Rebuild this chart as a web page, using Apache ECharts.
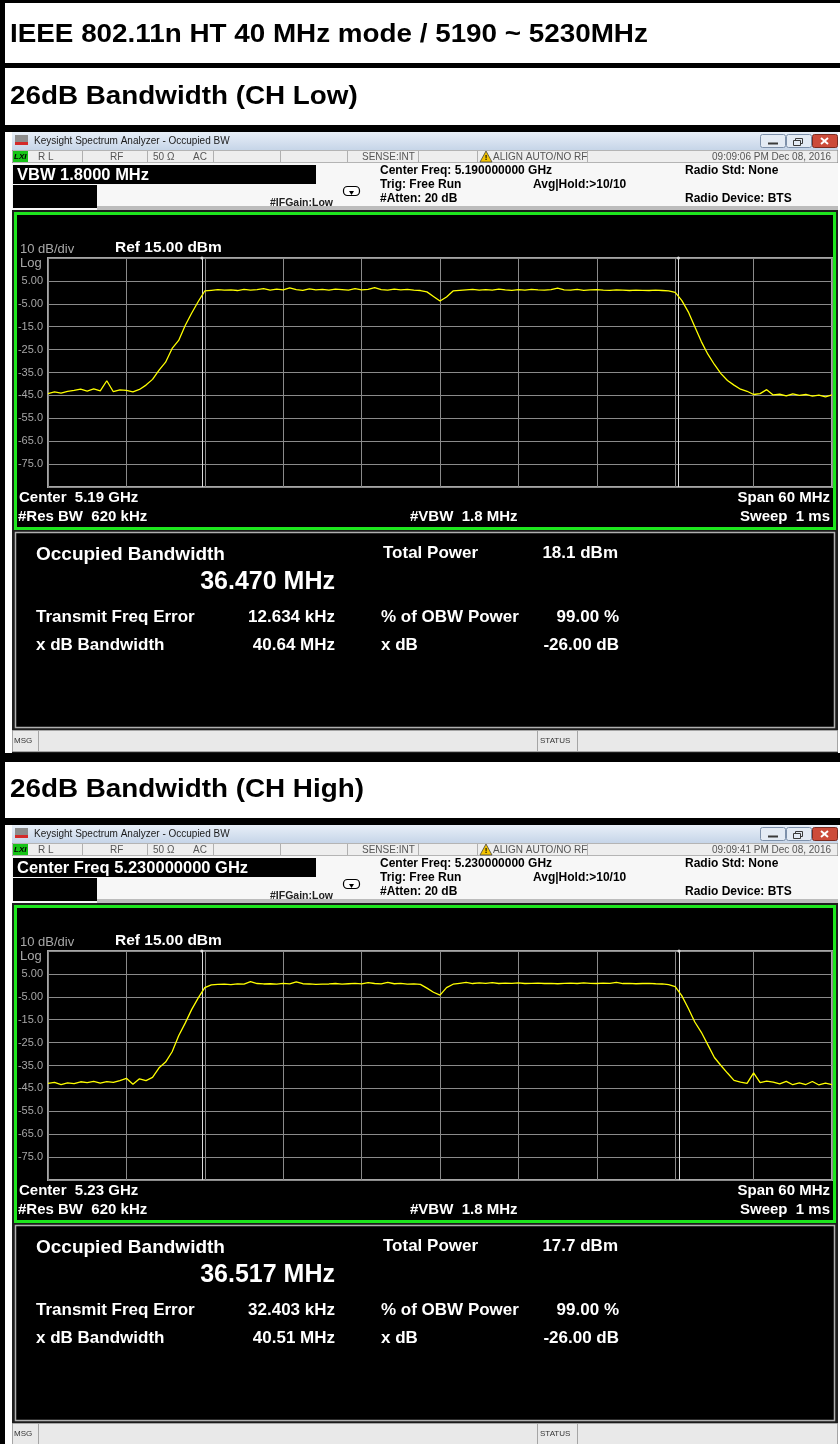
<!DOCTYPE html>
<html>
<head>
<meta charset="utf-8">
<script src="https://cdn.jsdelivr.net/npm/echarts@6/dist/echarts.min.js"></script>
<style>
  html, body { margin: 0; padding: 0; background: #fff; }
  #main { width: 840px; height: 1444px; }
</style>
</head>
<body>
<div id="main"></div>
<script>
// sweep points, offset from center frequency (MHz)
var freqMHz = [-30, -29.5, -29, -28.5, -28, -27.5, -27, -26.5, -26, -25.5, -25, -24.5, -24, -23.5,
  -23, -22.5, -22, -21.5, -21, -20.5, -20, -19.5, -19, -18.5, -18,
  -17.5, -17, -16.5, -16, -15.5, -15, -14.5, -14, -13.5, -13, -12.5, -12, -11.5, -11, -10.5, -10,
  -9.5, -9, -8.5, -8, -7.5, -7, -6.5, -6, -5.5, -5, -4.5, -4, -3.5, -3, -2.5, -2, -1.5,
  -1, -0.5, 0, 0.5, 1,
  1.5, 2, 2.5, 3, 3.5, 4, 4.5, 5, 5.5, 6, 6.5, 7, 7.5, 8, 8.5, 9, 9.5, 10, 10.5, 11, 11.5, 12,
  12.5, 13, 13.5, 14, 14.5, 15, 15.5, 16, 16.5, 17,
  17.5, 18, 18.5, 19, 19.5, 20, 20.5, 21, 21.5, 22, 22.5, 23, 23.5, 24, 24.5, 25, 25.5, 26,
  26.5, 27, 27.5, 28, 28.5, 29, 29.5, 30];

// CH Low trace (dBm)
var lowTrace = [-44.2, -43.5, -44.0, -43.2, -42.8, -42.3, -43.1, -42.2, -43.0, -38.6, -43.4, -42.6, -42.8, -43.5,
  -42.4, -40.5, -38.0, -34.0, -30.5, -24.5, -21.0, -14.5, -9.0, -4.0, 0.6,
  0.9, 1.2, 1.0, 1.1, 0.8, 1.3, 1.0, 1.2, 1.6, 1.0, 1.4, 1.1, 2.0, 1.2, 0.9, 1.5, 1.1, 1.3, 1.0, 1.4,
  1.2, 1.0, 1.6, 1.1, 1.3, 2.1, 1.2, 1.0, 1.4, 1.1, 1.3, 1.0, 0.8,
  0.2, -1.8, -3.8, -2.0, 0.6,
  0.9, 1.1, 1.3, 1.0, 1.2, 1.0, 1.4, 1.1, 0.9, 1.2, 1.0, 1.3, 1.1, 1.0, 1.2, 1.8, 1.1, 1.0, 1.3, 0.9,
  1.1, 1.2, 1.0, 0.9, 1.1, 1.0, 0.8, 1.0, 0.9, 0.8, 1.0, 0.8,
  0.6, 0.0, -3.5, -8.5, -15.0, -21.5, -27.0, -31.5, -35.5, -38.5, -40.5, -42.3, -43.2, -44.6, -44.2,
  -42.5, -44.8, -44.5, -45.2, -44.3, -45.0, -44.6, -45.3, -44.9, -45.6, -44.8];

// CH High trace (dBm)
var highTrace = [-42.8, -42.4, -43.4, -42.6, -42.9, -42.1, -42.5, -41.9, -42.7, -42.0, -42.4, -41.6, -40.6, -43.2,
  -40.8, -41.6, -40.2, -36.0, -33.5, -29.0, -22.0, -16.5, -10.5, -5.5, -1.0,
  0.2, 0.4, 0.5, 0.3, 0.6, 0.5, 1.6, 0.8, 0.6, 0.7, 0.5, 0.9, 0.6, 1.5, 0.7, 0.6, 0.4, 0.5, 0.6, 0.8,
  0.5, 0.7, 0.9, 0.6, 1.2, 0.8, 0.6, 1.3, 0.7, 0.9, 0.5, 0.6, 0.4,
  -1.2, -3.0, -4.3, -1.0, 0.5,
  0.9, 1.3, 0.8, 1.1, 0.9, 1.2, 0.8, 1.0, 0.9, 1.1, 0.8, 0.9, 1.0, 0.8, 0.9, 0.7, 0.9, 1.0, 0.8, 1.1,
  0.9, 0.8, 1.0, 0.9, 1.3, 0.8, 0.9, 0.7, 0.8, 0.9, 0.7, 0.6,
  0.3, -0.6, -4.5, -10.0, -16.0, -20.5, -26.0, -31.5, -35.0, -38.3, -41.5, -42.3, -42.8, -38.2, -42.5,
  -41.8, -42.3, -43.0, -41.9, -43.4, -42.6, -43.3, -42.0, -43.5, -42.7, -43.4];

// occupied bandwidth limit lines (MHz offset)
var obwLow = [-18.22, 18.25];
var obwHigh = [-18.23, 18.29];

// readouts
var lowInfo = {top: 'VBW 1.8000 MHz', cfreq: '5.190000000 GHz', time: '09:09:06 PM Dec 08, 2016',
  center: '5.19 GHz', obw: '36.470 MHz', power: '18.1 dBm', ferr: '12.634 kHz', xdb: '40.64 MHz'};
var highInfo = {top: 'Center Freq 5.230000000 GHz', cfreq: '5.230000000 GHz', time: '09:09:41 PM Dec 08, 2016',
  center: '5.23 GHz', obw: '36.517 MHz', power: '17.7 dBm', ferr: '32.403 kHz', xdb: '40.51 MHz'};

var FONT = '"Liberation Sans", Arial, sans-serif';

function txt(x, y, text, size, fill, align, extra) {
  var el = {type: 'text', x: x, y: y, z: 30, silent: true,
    style: {text: text, font: size + ' ' + FONT, fill: fill, align: align || 'left', verticalAlign: 'middle'}};
  if (extra) for (var k in extra) el[k] = extra[k];
  return el;
}
function rect(x, y, w, h, fill, stroke, lw, z, r) {
  return {type: 'rect', z: z == null ? -5 : z, silent: true,
    shape: {x: x, y: y, width: w, height: h, r: r || 0},
    style: {fill: fill || 'none', stroke: stroke || 'none', lineWidth: lw || 1}};
}
function line(x1, y1, x2, y2, stroke, lw, z) {
  return {type: 'line', z: z == null ? -4 : z, silent: true,
    shape: {x1: x1, y1: y1, x2: x2, y2: y2}, style: {stroke: stroke, lineWidth: lw || 1}};
}

// one analyzer screenshot, drawn with its top at y offset oy
function screen(oy, s) {
  var e = [];
  var B = 'bold ';
  e.push(rect(12, 132 + oy, 826, 621, '#1c1c1c', null, 1, -20));
  // window title bar
  e.push(rect(12, 132 + oy, 826, 18, {type: 'linear', x: 0, y: 0, x2: 0, y2: 1,
    colorStops: [{offset: 0, color: '#e8eff8'}, {offset: 1, color: '#c6d5e8'}]}, null, 1, -6));
  e.push(rect(15, 135 + oy, 13, 10, '#8c8c8c', null, 1, -4));
  e.push(rect(15, 142 + oy, 13, 3, '#d42a2a', null, 1, -3));
  e.push(txt(34, 141 + oy, 'Keysight Spectrum Analyzer - Occupied BW', '10px', '#1a1a1a'));
  e.push(rect(760.5, 134.5 + oy, 25, 13, '#e4ebf4', '#7d90aa', 1, -4, 2));
  e.push(rect(786.5, 134.5 + oy, 25, 13, '#e4ebf4', '#7d90aa', 1, -4, 2));
  e.push(rect(812.5, 134.5 + oy, 25, 13, '#cc4b3a', '#7a2a20', 1, -4, 2));
  e.push(line(768, 143.5 + oy, 778, 143.5 + oy, '#3a3a3a', 2, -3));
  e.push(rect(795.5, 138.5 + oy, 7, 5, 'none', '#3a3a3a', 1, -3));
  e.push(rect(793.5, 140.5 + oy, 7, 5, '#e4ebf4', '#3a3a3a', 1, -2));
  e.push(line(821, 138 + oy, 828, 144 + oy, '#ffffff', 2, -3));
  e.push(line(828, 138 + oy, 821, 144 + oy, '#ffffff', 2, -3));
  // status row
  e.push(rect(12.5, 150.5 + oy, 825, 12, '#eeeeee', '#b4b4b4', 1, -6));
  e.push(rect(13, 151 + oy, 15, 11, '#16c416', null, 1, -4));
  e.push(txt(14, 157 + oy, 'LXI', 'bold italic 8px', '#000'));
  [82, 147, 213, 280, 347, 418, 477, 587].forEach(function (x) {
    e.push(line(x + 0.5, 151 + oy, x + 0.5, 162 + oy, '#b0b0b0', 1, -3));
  });
  e.push(txt(38, 157 + oy, 'R L', '10px', '#555'));
  e.push(txt(110, 157 + oy, 'RF', '10px', '#555'));
  e.push(txt(153, 157 + oy, '50 Ω', '10px', '#555'));
  e.push(txt(193, 157 + oy, 'AC', '10px', '#555'));
  e.push(txt(362, 157 + oy, 'SENSE:INT', '10px', '#555'));
  e.push({type: 'polygon', z: -2, silent: true, shape: {points: [[480, 162 + oy], [486, 151 + oy], [492, 162 + oy]]},
    style: {fill: '#f3c300', stroke: '#444', lineWidth: 0.8}});
  e.push(txt(486, 158 + oy, '!', 'bold 8px', '#000', 'center'));
  e.push(txt(493, 157 + oy, 'ALIGN AUTO/NO RF', '10px', '#555'));
  e.push(txt(831, 157 + oy, s.time, '10px', '#555', 'right'));
  // settings header
  e.push(rect(12, 163 + oy, 826, 47, '#f7f7f7', null, 1, -6));
  e.push(rect(13, 165 + oy, 303, 19, '#000', null, 1, -4));
  e.push(txt(17, 175 + oy, s.top, B + '16.5px', '#fff'));
  e.push(rect(13, 185 + oy, 84, 23, '#000', null, 1, -4));
  e.push(rect(97, 206 + oy, 741, 4, '#bcbcbc', null, 1, -4));
  e.push(txt(270, 203 + oy, '#IFGain:Low', B + '10.5px', '#222'));
  e.push(rect(343.5, 186.5 + oy, 16, 9, '#fff', '#000', 1.2, -3, 4));
  e.push({type: 'polygon', z: -2, silent: true,
    shape: {points: [[349, 191 + oy], [354, 191 + oy], [351.5, 195 + oy]]}, style: {fill: '#000'}});
  e.push(txt(380, 171 + oy, 'Center Freq: ' + s.cfreq, B + '12px', '#000'));
  e.push(txt(380, 185 + oy, 'Trig: Free Run', B + '12px', '#000'));
  e.push(txt(380, 199 + oy, '#Atten: 20 dB', B + '12px', '#000'));
  e.push(txt(533, 185 + oy, 'Avg|Hold:>10/10', B + '12px', '#000'));
  e.push(txt(685, 171 + oy, 'Radio Std: None', B + '12px', '#000'));
  e.push(txt(685, 199 + oy, 'Radio Device: BTS', B + '12px', '#000'));
  // trace window
  e.push(rect(15.5, 213.5 + oy, 819, 315, '#000', '#1ee61e', 3, -10));
  e.push(txt(20, 249 + oy, '10 dB/div', '13px', '#a8a8a8'));
  e.push(txt(20, 263 + oy, 'Log', '13px', '#a8a8a8'));
  e.push(txt(115, 248 + oy, 'Ref 15.00 dBm', B + '15.5px', '#fff'));
  e.push(txt(19, 498 + oy, 'Center  ' + s.center, B + '15px', '#fff'));
  e.push(txt(18, 517 + oy, '#Res BW  620 kHz', B + '15px', '#fff'));
  e.push(txt(410, 517 + oy, '#VBW  1.8 MHz', B + '15px', '#fff'));
  e.push(txt(830, 498 + oy, 'Span 60 MHz', B + '15px', '#fff', 'right'));
  e.push(txt(830, 517 + oy, 'Sweep  1 ms', B + '15px', '#fff', 'right'));
  // result panel
  e.push(rect(15.5, 532.5 + oy, 819, 195, '#000', '#b0b0b0', 1.5, -10));
  e.push(txt(36, 555 + oy, 'Occupied Bandwidth', B + '19px', '#fff'));
  e.push(txt(335, 582 + oy, s.obw, B + '25px', '#fff', 'right'));
  e.push(txt(383, 553 + oy, 'Total Power', B + '17px', '#fff'));
  e.push(txt(618, 553 + oy, s.power, B + '17px', '#fff', 'right'));
  e.push(txt(36, 617 + oy, 'Transmit Freq Error', B + '17px', '#fff'));
  e.push(txt(335, 617 + oy, s.ferr, B + '17px', '#fff', 'right'));
  e.push(txt(381, 617 + oy, '% of OBW Power', B + '17px', '#fff'));
  e.push(txt(619, 617 + oy, '99.00 %', B + '17px', '#fff', 'right'));
  e.push(txt(36, 645 + oy, 'x dB Bandwidth', B + '17px', '#fff'));
  e.push(txt(335, 645 + oy, s.xdb, B + '17px', '#fff', 'right'));
  e.push(txt(381, 645 + oy, 'x dB', B + '17px', '#fff'));
  e.push(txt(619, 645 + oy, '-26.00 dB', B + '17px', '#fff', 'right'));
  // message bar
  e.push(rect(12.5, 730.5 + oy, 825, 21, '#e9e9e9', '#a5a5a5', 1, -6));
  e.push(line(38.5, 731 + oy, 38.5, 751 + oy, '#a5a5a5', 1, -3));
  e.push(line(537.5, 731 + oy, 537.5, 751 + oy, '#a5a5a5', 1, -3));
  e.push(line(577.5, 731 + oy, 577.5, 751 + oy, '#a5a5a5', 1, -3));
  e.push(txt(14, 741 + oy, 'MSG', '8px', '#333'));
  e.push(txt(540, 741 + oy, 'STATUS', '8px', '#333'));
  return e;
}

var graphics = [];
// document table borders and headings
graphics.push(rect(0, 0, 840, 3, '#000', null, 1, -8));
graphics.push(rect(0, 0, 5, 1444, '#000', null, 1, -8));
graphics.push(rect(0, 63, 840, 5, '#000', null, 1, -8));
graphics.push(rect(0, 125, 840, 7, '#000', null, 1, -8));
graphics.push(rect(0, 753, 840, 9, '#000', null, 1, -8));
graphics.push(rect(0, 818, 840, 7, '#000', null, 1, -8));
graphics.push(txt(10, 35, 'IEEE 802.11n HT 40 MHz mode / 5190 ~ 5230MHz', 'bold 26px', '#000', 'left', {scaleX: 1.07}));
graphics.push(txt(10, 97, '26dB Bandwidth (CH Low)', 'bold 26px', '#000', 'left', {scaleX: 1.07}));
graphics.push(txt(10, 790, '26dB Bandwidth (CH High)', 'bold 26px', '#000', 'left', {scaleX: 1.07}));
graphics = graphics.concat(screen(0, lowInfo), screen(693, highInfo));

function yLabel(v) {
  if (v >= 15 || v <= -85) return '';
  return Math.abs(v) < 10 ? v.toFixed(2) : v.toFixed(1);
}
function xAxisOf(i) {
  return {type: 'value', gridIndex: i, min: -30, max: 30, interval: 6,
    axisLabel: {show: false}, axisTick: {show: false}, axisLine: {show: false},
    splitLine: {show: true, lineStyle: {color: '#8a8a8a', width: 1}}};
}
function yAxisOf(i) {
  return {type: 'value', gridIndex: i, min: -85, max: 15, interval: 10,
    axisTick: {show: false}, axisLine: {show: false},
    axisLabel: {formatter: yLabel, color: '#a6a6a6', fontSize: 11, fontFamily: FONT, margin: 5},
    splitLine: {show: true, lineStyle: {color: '#8a8a8a', width: 1}}};
}
function traceSeries(i, values, obw) {
  return {type: 'line', xAxisIndex: i, yAxisIndex: i, showSymbol: false, symbol: 'none',
    data: freqMHz.map(function (f, k) { return [f, values[k]]; }),
    lineStyle: {color: '#ffff00', width: 1.3}, z: 5,
    markLine: {silent: true, symbol: ['none', 'circle'], symbolSize: 3, animation: false,
      label: {show: false}, lineStyle: {color: '#dcdcdc', width: 1, type: 'solid'},
      data: [{xAxis: obw[0]}, {xAxis: obw[1]}]}};
}

var chart = echarts.init(document.getElementById('main'), null, {renderer: 'canvas'});
chart.setOption({
  backgroundColor: '#ffffff',
  animation: false,
  grid: [
    {left: 48, top: 258, width: 784, height: 229, show: true, borderColor: '#a6a6a6', borderWidth: 2,
      backgroundColor: 'transparent', containLabel: false, outerBoundsMode: 'none'},
    {left: 48, top: 951, width: 784, height: 229, show: true, borderColor: '#a6a6a6', borderWidth: 2,
      backgroundColor: 'transparent', containLabel: false, outerBoundsMode: 'none'}
  ],
  xAxis: [xAxisOf(0), xAxisOf(1)],
  yAxis: [yAxisOf(0), yAxisOf(1)],
  series: [traceSeries(0, lowTrace, obwLow), traceSeries(1, highTrace, obwHigh)],
  graphic: {elements: graphics}
});
</script>
</body>
</html>
